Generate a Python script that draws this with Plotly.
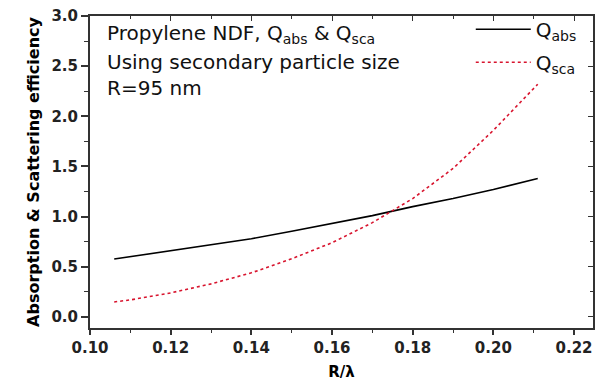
import plotly.graph_objects as go

r_lambda = [0.106, 0.11, 0.12, 0.13, 0.14, 0.15, 0.16, 0.17, 0.18, 0.19, 0.20, 0.211]
q_abs = [0.577, 0.60, 0.66, 0.72, 0.78, 0.855, 0.93, 1.01, 1.10, 1.18, 1.27, 1.38]
q_sca = [0.15, 0.17, 0.24, 0.33, 0.44, 0.58, 0.74, 0.94, 1.18, 1.48, 1.86, 2.32]

x_ticks = [0.10, 0.12, 0.14, 0.16, 0.18, 0.20, 0.22]
x_labels = ["0.10", "0.12", "0.14", "0.16", "0.18", "0.20", "0.22"]
x_minor = [0.11, 0.13, 0.15, 0.17, 0.19, 0.21]
y_ticks = [0.0, 0.5, 1.0, 1.5, 2.0, 2.5, 3.0]
y_labels = ["0.0", "0.5", "1.0", "1.5", "2.0", "2.5", "3.0"]
y_minor = [0.25, 0.75, 1.25, 1.75, 2.25, 2.75]

WIDE = "DejaVu Sans, Verdana, sans-serif"
AX = "#333333"
xr = [0.10, 0.2247]
yr = [-0.11, 3.0]

fig = go.Figure()
fig.add_trace(go.Scatter(x=r_lambda, y=q_abs, mode="lines", name="Q<sub>abs</sub>",
                         legendgroup="a", line=dict(color="black", width=1.6)))
fig.add_trace(go.Scatter(x=r_lambda, y=q_sca, mode="lines", name="Q<sub>sca</sub>",
                         legendgroup="b", line=dict(color="#d8142e", width=1.6, dash="dot")))
# invisible trace so the mirrored (inside-tick) top/right axes are drawn
fig.add_trace(go.Scatter(x=[xr[0]], y=[yr[0]], xaxis="x2", yaxis="y2", mode="markers",
                         marker=dict(opacity=0), showlegend=False, hoverinfo="skip"))

tickfont = dict(size=15, family=WIDE, color="#222")

fig.update_layout(
    width=602, height=386,
    margin=dict(l=90, r=9, t=16, b=58),
    paper_bgcolor="white", plot_bgcolor="white",
    font=dict(family=WIDE, color="black"),
    xaxis=dict(range=xr, tickvals=x_ticks, ticktext=["<b>%s</b>" % t for t in x_labels],
               ticks="outside", ticklen=5, tickwidth=1.5, tickcolor=AX, showline=True,
               linecolor=AX, linewidth=2, showgrid=False, zeroline=False, automargin=False,
               tickfont=tickfont,
               minor=dict(tickvals=x_minor, ticks="outside", ticklen=3, tickcolor=AX, tickwidth=1.2),
               title=dict(text="<b>R/λ</b>", font=dict(size=15, family=WIDE), standoff=10)),
    yaxis=dict(range=yr, tickvals=y_ticks, ticktext=["<b>%s</b>" % t for t in y_labels],
               ticks="outside", ticklen=7, tickwidth=1.5, tickcolor=AX, showline=True,
               linecolor=AX, linewidth=2, showgrid=False, zeroline=False, automargin=False,
               tickfont=tickfont,
               minor=dict(tickvals=y_minor, ticks="outside", ticklen=4, tickcolor=AX, tickwidth=1.2),
               title=dict(text="<b>Absorption & Scattering efficiency</b>",
                          font=dict(size=16, family=WIDE), standoff=8)),
    xaxis2=dict(range=xr, overlaying="x", side="top", anchor="y2", showticklabels=False,
                tickvals=x_ticks, ticks="inside", ticklen=5, tickwidth=1.2, tickcolor=AX,
                showline=True, linecolor=AX, linewidth=2, showgrid=False, zeroline=False,
                automargin=False,
                minor=dict(tickvals=x_minor, ticks="inside", ticklen=3, tickcolor=AX)),
    yaxis2=dict(range=yr, overlaying="y", side="right", anchor="x2", showticklabels=False,
                tickvals=y_ticks, ticks="inside", ticklen=5, tickwidth=1.2, tickcolor=AX,
                showline=True, linecolor=AX, linewidth=2, showgrid=False, zeroline=False,
                automargin=False,
                minor=dict(tickvals=y_minor, ticks="inside", ticklen=3, tickcolor=AX)),
    legend=dict(x=0.757, y=1.02, xanchor="left", yanchor="top", bgcolor="rgba(0,0,0,0)",
                font=dict(size=20, family=WIDE, color="#111"), itemwidth=55,
                tracegroupgap=4, traceorder="grouped"),
    showlegend=True,
)

ann_font = dict(size=20, family=WIDE, color="#111")
fig.add_annotation(xref="paper", yref="paper", x=0.03, y=0.942, xanchor="left", yanchor="middle",
                   text="Propylene NDF, Q<sub>abs</sub> & Q<sub>sca</sub>", showarrow=False, font=ann_font)
fig.add_annotation(xref="paper", yref="paper", x=0.03, y=0.852, xanchor="left", yanchor="middle",
                   text="Using secondary particle size", showarrow=False, font=ann_font)
fig.add_annotation(xref="paper", yref="paper", x=0.03, y=0.77, xanchor="left", yanchor="middle",
                   text="R=95 nm", showarrow=False, font=ann_font)

# remove the browser's default 8px page margin so the figure fills the window exactly
fig.write_html("out.html", config={"displayModeBar": False},
               post_script="document.body.style.margin='0';")
